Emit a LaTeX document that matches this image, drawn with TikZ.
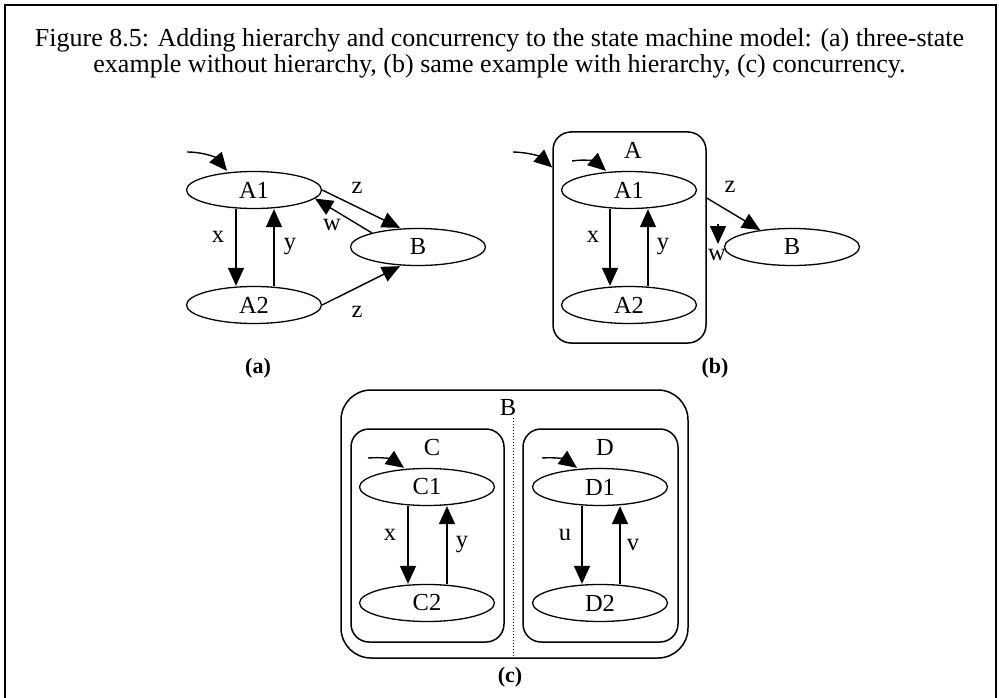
\documentclass[tikz,border=0pt]{standalone}
\usepackage{fontspec}
\setmainfont{Liberation Serif}
\usetikzlibrary{arrows.meta,shapes.geometric}

\begin{document}
\begin{tikzpicture}[x=1pt,y=-1pt,
    stnode/.style={draw,ellipse,line width=1.3pt,minimum width=135pt,minimum height=37pt,inner sep=0pt,font=\fontsize{24.5}{26}\selectfont},
    clbox/.style={draw,line width=1.5pt,rounded corners=18pt,inner sep=0pt},
    tr/.style={line width=1.4pt,-{Triangle[length=18pt,width=16pt]}},
    lbl/.style={inner sep=0pt,font=\fontsize{24.5}{26}\selectfont},
    sub/.style={inner sep=0pt,font=\fontsize{22}{24}\selectfont\bfseries}]
    \useasboundingbox (0,0) rectangle (999,698);
    \draw [line width=2pt] (5,698) -- (5,5) -- (996,5) -- (996,698);
    \node (cap) [align=center,inner sep=0pt,font=\fontsize{26}{26}\selectfont] at (499.5,53)
        {Figure 8.5: Adding hierarchy and concurrency to the state machine model: (a) three-state\\
         example without hierarchy, (b) same example with hierarchy, (c) concurrency.};
    % (a)
    \node (A1a) [stnode] at (254,190) {A1};
    \node (A2a) [stnode] at (254,305) {A2};
    \node (Ba) [stnode] at (418,247) {B};
    \coordinate (inita) at (187,152);
    \draw [tr] (inita) to[bend left=25] ([xshift=-27pt]A1a.north);
    \draw [tr] ([xshift=-18pt]A1a.south) -- ([xshift=-18pt]A2a.north);
    \draw [tr] ([xshift=20pt]A2a.north) -- ([xshift=20pt]A1a.south);
    \draw [tr] (A1a.east) -- ([xshift=-18pt]Ba.north);
    \draw [tr] (Ba.163) -- (A1a.-8);
    \draw [tr] (A2a.east) -- ([xshift=-18pt]Ba.south);
    \node (xa) [lbl] at (218,237) {x};
    \node (ya) [lbl] at (290,247) {y};
    \node (za) [lbl] at (357,188) {z};
    \node (wa) [lbl] at (332,225) {w};
    \node (zza) [lbl] at (357,312) {z};
    \node (suba) [sub] at (258,368) {(a)};
    % (b)
    \node (clA) [clbox,minimum width=153pt,minimum height=211pt] at (629.5,237.5) {};
    \node (labA) [lbl] at (633,150) {A};
    \node (A1b) [stnode] at (629,190) {A1};
    \node (A2b) [stnode] at (629,305) {A2};
    \node (Bb) [stnode] at (792,247) {B};
    \coordinate (initb) at (513,152);
    \coordinate (initbb) at (572,161);
    \coordinate (wtop) at (718,224);
    \coordinate (wtip) at (718,244);
    \draw [tr] (initb) to[bend left=20] ([yshift=70pt]clA.west);
    \draw [tr] (initbb) to[bend left=25] ([xshift=-23pt]A1b.north);
    \draw [tr] ([xshift=-19pt]A1b.south) -- ([xshift=-19pt]A2b.north);
    \draw [tr] ([xshift=19pt]A2b.north) -- ([xshift=19pt]A1b.south);
    \draw [tr] ([yshift=39.5pt]clA.east) -- (Bb.152);
    \draw [tr] (wtop) -- (wtip);
    \node (xb) [lbl] at (593,237) {x};
    \node (yb) [lbl] at (663,247) {y};
    \node (zb) [lbl] at (730,187) {z};
    \node (wb) [lbl] at (717,255) {w};
    \node (subb) [sub] at (715,368) {(b)};
    % (c)
    \node (clB) [clbox,rounded corners=30pt,minimum width=347pt,minimum height=268pt] at (514.5,524) {};
    \node (labB) [lbl] at (508,408) {B};
    \coordinate (dtop) at (513,418);
    \draw [dotted,line width=1pt] (dtop) -- (dtop |- clB.south);
    \node (clC) [clbox,minimum width=153pt,minimum height=213pt] at (427.5,535.5) {};
    \node (clD) [clbox,minimum width=155pt,minimum height=213pt] at (600.5,535.5) {};
    \node (labC) [lbl] at (432,448) {C};
    \node (labD) [lbl] at (605,448) {D};
    \node (C1) [stnode] at (427,487) {C1};
    \node (C2) [stnode] at (427,603) {C2};
    \node (D1) [stnode] at (600,487) {D1};
    \node (D2) [stnode] at (600,603) {D2};
    \coordinate (initc) at (368,458);
    \coordinate (initd) at (542,458);
    \draw [tr] (initc) to[bend left=20] ([xshift=-23pt]C1.north);
    \draw [tr] (initd) to[bend left=20] ([xshift=-23pt]D1.north);
    \draw [tr] ([xshift=-19pt]C1.south) -- ([xshift=-19pt]C2.north);
    \draw [tr] ([xshift=20pt]C2.north) -- ([xshift=20pt]C1.south);
    \draw [tr] ([xshift=-18pt]D1.south) -- ([xshift=-18pt]D2.north);
    \draw [tr] ([xshift=20pt]D2.north) -- ([xshift=20pt]D1.south);
    \node (xc) [lbl] at (390,535) {x};
    \node (yc) [lbl] at (462,545) {y};
    \node (ud) [lbl] at (565,535) {u};
    \node (vd) [lbl] at (633,545) {v};
    \node (subc) [sub] at (510,677) {(c)};
\end{tikzpicture}
\end{document}
